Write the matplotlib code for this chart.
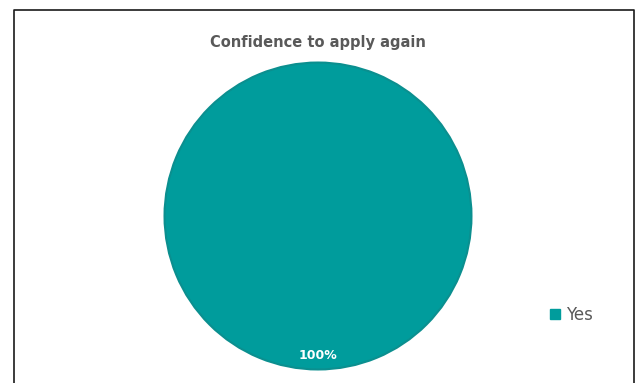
import matplotlib.pyplot as plt
from matplotlib.lines import Line2D
from matplotlib.patches import Patch

# Survey answers
labels = ['Yes']
shares = [100]
colors = ['#009C9C']

fig = plt.figure(figsize=(6.4, 3.83), dpi=100)
fig.patch.set_facecolor('white')

# pie area: centre (318, 216) px, radius 155 px
W, H = 640, 383
cx, cy, r = 318, 216, 155
ax = fig.add_axes([(cx - r) / W, (H - cy - r) / H, 2 * r / W, 2 * r / H])
wedges, texts, autotexts = ax.pie(
    shares, colors=colors, startangle=90, autopct='%1.0f%%',
    pctdistance=0.91, radius=1.0,
    wedgeprops=dict(edgecolor='#0B8F8F', linewidth=1.5),
    textprops=dict(color='white', fontsize=9, fontweight='bold'))
ax.set_xlim(-1.01, 1.01)
ax.set_ylim(-1.01, 1.01)
ax.set_aspect('equal')
ax.axis('off')

fig.text(cx / W, 1 - 42 / H, 'Confidence to apply again', ha='center', va='center',
         fontsize=10.5, fontweight='bold', color='#595959')

# legend
handles = [Patch(facecolor=c, edgecolor=c, label=l) for l, c in zip(labels, colors)]
fig.legend(handles=handles, loc='center left', bbox_to_anchor=(535 / W, 1 - 315 / H),
           frameon=False, fontsize=12, handlelength=0.6, handleheight=0.6,
           handletextpad=0.35, labelcolor='#595959')

# chart border (left, top, right)
x0, x1, y0 = 13.5 / W, 633.5 / W, 1 - 9.5 / H
fig.add_artist(Line2D([x0, x0, x1, x1], [0, y0, y0, 0], transform=fig.transFigure,
                      color='#1a1a1a', linewidth=1.2))

fig.savefig('out.png', dpi=100)
